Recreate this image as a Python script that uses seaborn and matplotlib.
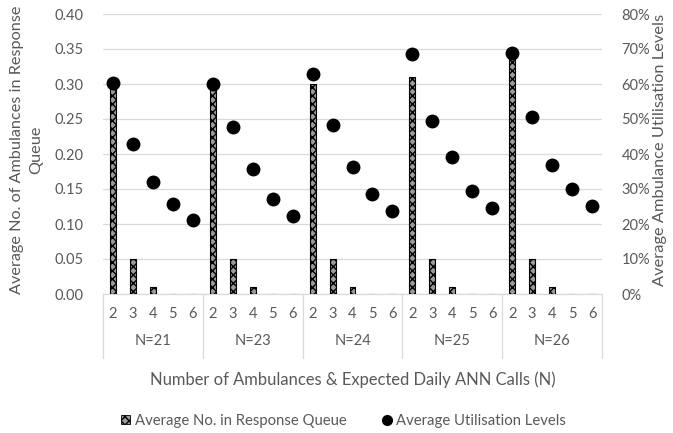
import numpy as np
import pandas as pd
import matplotlib
matplotlib.use("Agg")
import matplotlib.pyplot as plt
import matplotlib.transforms as mtransforms
from matplotlib.patches import Patch
from matplotlib.lines import Line2D
import seaborn as sns

# Scenario groups (expected daily ANN calls) and ambulance counts
groups = ["N=21", "N=23", "N=24", "N=25", "N=26"]
ambulances = [2, 3, 4, 5, 6]

# Average number of calls waiting in the response queue
queue_n21 = [0.30, 0.05, 0.01, 0.0, 0.0]
queue_n23 = [0.30, 0.05, 0.01, 0.0, 0.0]
queue_n24 = [0.30, 0.05, 0.01, 0.0, 0.0]
queue_n25 = [0.31, 0.05, 0.01, 0.0, 0.0]
queue_n26 = [0.34, 0.05, 0.01, 0.0, 0.0]

# Average ambulance utilisation (fraction)
util_n21 = [0.604, 0.429, 0.321, 0.257, 0.211]
util_n23 = [0.599, 0.478, 0.358, 0.272, 0.224]
util_n24 = [0.629, 0.482, 0.363, 0.285, 0.238]
util_n25 = [0.685, 0.495, 0.392, 0.294, 0.247]
util_n26 = [0.689, 0.505, 0.369, 0.301, 0.251]

queue_all = [queue_n21, queue_n23, queue_n24, queue_n25, queue_n26]
util_all = [util_n21, util_n23, util_n24, util_n25, util_n26]

rows = []
for g, qs, us in zip(groups, queue_all, util_all):
    for k, q, u in zip(ambulances, qs, us):
        rows.append({"group": g, "k": k, "queue": q, "util": u})
df = pd.DataFrame(rows)
df["pos"] = np.arange(len(df))

sns.set_theme(style="white")
plt.rcParams["font.family"] = ["Lato", "DejaVu Sans"]
text_color = "#595959"
grid_color = "#d9d9d9"

fig = plt.figure(figsize=(6.73, 4.33), dpi=100)
ax = fig.add_axes([103 / 673, 1 - 294 / 433, (602 - 103) / 673, (294 - 14) / 433])

sns.barplot(data=df, x="pos", y="queue", native_scale=True, width=0.3,
            color="#9a9a9a", edgecolor="black", linewidth=0.8,
            hatch="xxxx", errorbar=None, ax=ax, zorder=3)
for p in ax.patches:
    p.set_hatch("xxxx")
    p.set_edgecolor("black")

ax.set_xlim(-0.5, len(df) - 0.5)
ax.set_ylim(0, 0.40)
ax.set_yticks(np.arange(0, 0.401, 0.05))
ax.set_yticklabels([f"{v:.2f}" for v in np.arange(0, 0.401, 0.05)])
ax.yaxis.grid(True, color=grid_color, linewidth=0.9, zorder=0)
ax.set_axisbelow(True)
for s in ["top", "right", "left"]:
    ax.spines[s].set_visible(False)
ax.spines["bottom"].set_color(grid_color)
ax.spines["bottom"].set_linewidth(0.9)

ax.set_xticks(df["pos"])
ax.set_xticklabels(df["k"].astype(str))
ax.tick_params(axis="x", length=0, pad=9, labelsize=10.5, colors=text_color)
ax.tick_params(axis="y", length=0, pad=14, labelsize=10.5, colors=text_color)
ax.set_xlabel("")
ax.set_ylabel("")

ax2 = ax.twinx()
sns.scatterplot(data=df, x="pos", y="util", color="black", s=100,
                edgecolor="black", linewidth=0, ax=ax2, zorder=4, legend=False)
ax2.set_xlim(-0.5, len(df) - 0.5)
ax2.set_ylim(0, 0.80)
ax2.set_yticks(np.arange(0, 0.801, 0.1))
ax2.set_yticklabels([f"{int(round(v * 100))}%" for v in np.arange(0, 0.801, 0.1)])
ax2.tick_params(axis="y", length=0, pad=14, labelsize=10.5, colors=text_color)
for s in ["top", "right", "left", "bottom"]:
    ax2.spines[s].set_visible(False)
ax2.set_ylabel("")
ax2.set_xlabel("")

# Axis titles
fig.text(27 / 673, 1 - 150 / 433, "Average No. of Ambulances in Response\nQueue",
         rotation=90, ha="center", va="center", fontsize=11.7, color=text_color,
         multialignment="center", linespacing=1.5)
fig.text(660 / 673, 1 - 150 / 433, "Average Ambulance Utilisation Levels",
         rotation=90, ha="center", va="center", fontsize=11.8, color=text_color)

# Multi-level category axis: separators and group labels
trans = mtransforms.blended_transform_factory(ax.transData, ax.transAxes)
sep_bottom = -(358 - 294) / 280
n_per = len(ambulances)
for i in range(len(groups) + 1):
    xb = i * n_per - 0.5
    ax.plot([xb, xb], [0, sep_bottom], transform=trans, color=grid_color,
            linewidth=0.9, clip_on=False)
for i, g in enumerate(groups):
    ax.text(i * n_per + (n_per - 1) / 2, -(341 - 294) / 280, g, transform=trans,
            ha="center", va="center", fontsize=10.5, color=text_color)

fig.text((103 + 602) / 2 / 673, 1 - 380 / 433,
         "Number of Ambulances & Expected Daily ANN Calls (N)",
         ha="center", va="center", fontsize=11.9, color=text_color)

handles = [
    Patch(facecolor="#9a9a9a", edgecolor="black", hatch="xxxx", linewidth=0.6,
          label="Average No. in Response Queue"),
    Line2D([0], [0], marker="o", color="none", markerfacecolor="black",
           markeredgecolor="black", markersize=7, label="Average Utilisation Levels"),
]
fig.legend(handles=handles, loc="center", bbox_to_anchor=(343.5 / 673, 1 - 421 / 433),
           ncol=2, frameon=False, fontsize=10.75, handlelength=0.6, handleheight=0.6,
           handletextpad=0.3, columnspacing=2.4, labelcolor=text_color)

fig.savefig("out.png", dpi=100)
